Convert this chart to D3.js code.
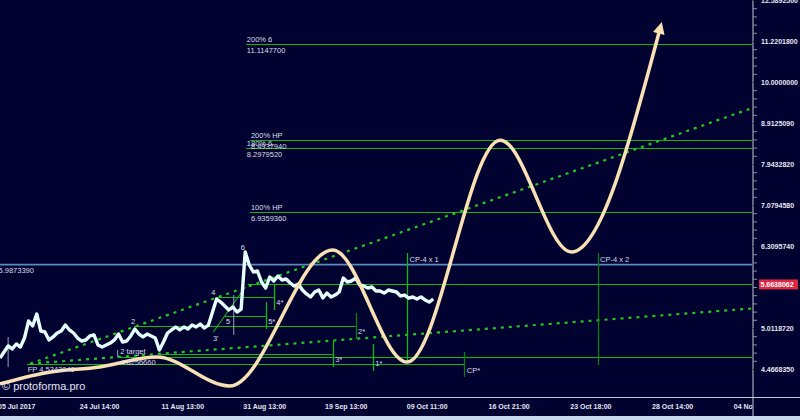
<!DOCTYPE html>
<html><head><meta charset="utf-8">
<script src="https://cdn.jsdelivr.net/npm/d3@7"></script>
<style>html,body{margin:0;padding:0;background:#020230;overflow:hidden}</style>
</head><body>
<svg id="c" width="800" height="420"></svg>
<script>
// ---------- DATA ----------
const xTickBars = [0,100,200,300,400,500,600,700,800,900];
const xTickLabels = ["05 Jul 2017","24 Jul 14:00","11 Aug 13:00","31 Aug 13:00","19 Sep 13:00","09 Oct 11:00","16 Oct 21:00","23 Oct 18:00","28 Oct 14:00","04 Nov 10:00"];
const yTickValues = [12.58925, 11.22018, 10, 8.912509, 7.943282, 7.079458, 6.309574, 5.011872, 4.466835];
const yTickLabels = ["12.5892500","11.2201800","10.0000000","8.9125090","7.9432820","7.0794580","6.3095740","5.0118720","4.4668350"];
const lastPrice = 5.6638062;
const lastPriceLabel = "5.6638062";

const priceStartBar = 3, priceStepBars = 5;
const priceValues = [4.607,4.685,4.765,4.725,4.792,4.751,4.873,5.111,5.040,5.213,
 4.970,4.956,4.846,4.887,4.942,4.970,5.054,4.984,4.942,4.873,
 4.832,4.846,4.901,4.915,4.778,4.751,4.778,4.805,4.846,4.928,
 4.819,4.832,4.901,4.998,4.928,4.887,4.928,4.901,4.873,4.712,
 4.819,4.942,4.984,5.026,4.984,5.026,4.998,5.054,5.026,5.068,
 5.012,5.054,5.242,5.437,5.391,5.331,5.272,5.316,5.242,5.286,
 6.204,5.982,5.865,5.882,5.703,5.608,5.784,5.719,5.800,5.735,
 5.751,5.687,5.639,5.671,5.576,5.514,5.468,5.545,5.576,5.452,
 5.529,5.468,5.498,5.545,5.767,5.703,5.719,5.767,5.655,5.639,
 5.608,5.623,5.561,5.561,5.529,5.576,5.561,5.545,5.483,5.498,
 5.452,5.468,5.437,5.468,5.422,5.391,5.437];
const wickBars = [13, 147, 289];
const wickLow  = [4.492, 4.619, 4.915];
const wickHigh = [4.887, 4.712, 5.498];

const projBars   = [3, 58, 125, 195, 284, 410, 501, 615, 702, 810];
const projValues = [4.2835, 4.4179, 4.4929, 4.6194, 4.2587, 6.2393, 4.5551, 8.4938, 6.2044, 11.5726];

const channelBars = [40, 923];
const channelUpper = [4.534204, 9.2963];
const channelLower = [4.534204, 5.2945];

const hpLevel = 5.987339, hpLevelLabel = "5.9873390";
const levelValues = [11.11477, 8.493794, 8.297952, 6.935936, 5.6638062, 5.468, 5.1836, 5.040, 4.658, 4.625666, 4.534204];
const levelStart  = [304, 309, 304, 309, 306, 268, 278, 167, 199, 147, 36];
const levelEnd    = [923, 923, 923, 923, 923, 338, 328, 438, 410, 923, 571];
const levelTopText    = ["200% 6","200% HP","180% 6","100% HP","","","","","","2 target",""];
const levelBottomText = ["11.1147700","8.4937940","8.2979520","6.9359360","","","","","","4.6256660","FP 4.5342040"];
const levelTextBar    = [305, 310, 305, 310, 0, 0, 0, 0, 0, 150, 37];

const markNames = ["4*","5*","2*","3*","1*","CP-4 x 1","CP-4 x 2","CP*"];
const markBars  = [338, 328, 438, 410, 459, 501, 734, 571];
const markLow   = [5.272, 4.998, 4.859, 4.492, 4.443, 4.543, 4.517, 4.369];
const markHigh  = [5.655, 5.391, 5.228, 4.846, 4.792, 6.186, 6.186, 4.685];
const markTextValue = [5.391, 5.111, 4.970, 4.594, 4.543, 6.083, 6.083, 4.455];
const markDark  = [false,false,true,false,false,false,true,true];

const diagBars = [264, 303];
const diagValues = [4.956, 5.623];

const waveNames  = ["2","4","3'","5","6"];
const waveBars   = [166, 264, 267, 282, 300];
const waveValues = [5.111, 5.545, 4.873, 5.111, 6.292];

// ---------- CHART ----------
const W=800, H=420, plotR=752.5, plotB=397;
const FONT = "'Liberation Sans', Arial, sans-serif";
const svg = d3.select("#c");
svg.append("rect").attr("width",W).attr("height",H).attr("fill","#020230");
svg.append("rect").attr("x",0).attr("y",416).attr("width",W).attr("height",4).attr("fill","#c9d9ee");

const x = d3.scaleLinear().domain([0,1000]).range([-2.5,815]);
const y = d3.scaleLog().domain([4.4668359,12.5892541]).range([369,0]);

const defs = svg.append("defs");
defs.append("clipPath").attr("id","plot").append("rect").attr("x",0).attr("y",0).attr("width",plotR).attr("height",plotB);
defs.append("clipPath").attr("id","xax").append("rect").attr("x",-10).attr("y",-5).attr("width",plotR+10).attr("height",30);
defs.append("marker").attr("id","arr").attr("viewBox","0 0 10 10")
  .attr("refX",3).attr("refY",5).attr("markerWidth",3.6).attr("markerHeight",3.4)
  .attr("orient","auto").attr("markerUnits","strokeWidth")
  .append("path").attr("d","M0,0 L10,5 L0,10 z").attr("fill","#f9e1b4");

const g = svg.append("g").attr("clip-path","url(#plot)");
const GREEN = "#12b812", DKGREEN = "#0b7e0b";

// blue HP level
g.append("line").attr("x1",x(0)).attr("x2",x(923)).attr("y1",y(hpLevel)).attr("y2",y(hpLevel))
  .attr("stroke","#5b88bd").attr("stroke-width",1.6);

// green horizontal levels
levelValues.forEach((v,i)=>{
  g.append("line").attr("x1",x(levelStart[i])).attr("x2",x(levelEnd[i]))
    .attr("y1",Math.round(y(v))+0.5).attr("y2",Math.round(y(v))+0.5)
    .attr("stroke",GREEN).attr("stroke-width",1.2);
});

// dotted channel
const lineGen = d3.line().x((d)=>x(d[0])).y((d)=>y(d[1]));
[channelUpper, channelLower].forEach(arr=>{
  g.append("path").attr("d", lineGen(channelBars.map((b,i)=>[b,arr[i]])))
    .attr("fill","none").attr("stroke","#22c822").attr("stroke-width",2.2)
    .attr("stroke-dasharray","3,5");
});

// vertical markers
markBars.forEach((b,i)=>{
  g.append("line").attr("x1",Math.round(x(b))+0.5).attr("x2",Math.round(x(b))+0.5)
    .attr("y1",y(markHigh[i])).attr("y2",y(markLow[i]))
    .attr("stroke", markDark[i]?DKGREEN:GREEN).attr("stroke-width",1.3);
});
g.append("path").attr("d", lineGen(diagBars.map((b,i)=>[b,diagValues[i]])))
  .attr("stroke",GREEN).attr("stroke-width",1.1).attr("fill","none");

// wicks
wickBars.forEach((b,i)=>{
  g.append("line").attr("x1",x(b)).attr("x2",x(b)).attr("y1",y(wickHigh[i])).attr("y2",y(wickLow[i]))
    .attr("stroke","#9aa4b8").attr("stroke-width",1);
});

// price line
const pricePts = priceValues.map((v,i)=>[priceStartBar+i*priceStepBars, v]);
g.append("path").attr("d", lineGen(pricePts)).attr("fill","none")
  .attr("stroke","#e6fdff").attr("stroke-width",3.4).attr("stroke-linejoin","round");

// projection curve
const projLine = d3.line().x(d=>x(d[0])).y(d=>y(d[1])).curve(d3.curveMonotoneX);
svg.append("path").attr("d", projLine(projBars.map((b,i)=>[b,projValues[i]])))
  .attr("fill","none").attr("stroke","#f9e1b4").attr("stroke-width",3.5)
  .attr("clip-path","url(#plot)").attr("marker-end","url(#arr)");

// texts
const tg = svg.append("g").attr("font-family",FONT).attr("font-size","7.5px").attr("fill","#d9dde8");
tg.append("text").attr("x",x(0)+1).attr("y",y(hpLevel)+6).attr("dy","0.35em").text(hpLevelLabel);
levelValues.forEach((v,i)=>{
  if(levelTopText[i]) tg.append("text").attr("x",x(levelTextBar[i])).attr("y",y(v)-5).attr("dy","0.35em").text(levelTopText[i]);
  if(levelBottomText[i]) tg.append("text").attr("x",x(levelTextBar[i])).attr("y",y(v)+6).attr("dy","0.35em").text(levelBottomText[i]);
});
markNames.forEach((n,i)=>{
  tg.append("text").attr("x",x(markBars[i])+2.5).attr("y",y(markTextValue[i])).attr("dy","0.35em").text(n);
});
waveNames.forEach((n,i)=>{
  tg.append("text").attr("x",x(waveBars[i])).attr("y",y(waveValues[i])).attr("dy","0.35em")
    .attr("text-anchor","middle").text(n);
});
svg.append("text").attr("x",2).attr("y",386).attr("dy","0.35em").attr("font-family",FONT)
  .attr("font-size","11px").attr("fill","#e2e4f2").text("\u00A9 protoforma.pro");

// bottom axis
svg.append("line").attr("x1",0).attr("x2",W).attr("y1",plotB+0.5).attr("y2",plotB+0.5).attr("stroke","#c4c6d4").attr("stroke-width",1);
const xAxisG = svg.append("g").attr("transform",`translate(0,${plotB})`).attr("clip-path","url(#xax)")
  .call(d3.axisBottom(x).tickValues(xTickBars).tickFormat((d,i)=>xTickLabels[i]).tickSize(0).tickSizeOuter(0));
xAxisG.select(".domain").remove();
xAxisG.selectAll("text").attr("y",11.5).attr("dy",0).attr("text-anchor","start")
  .attr("font-family",FONT).attr("font-size","7px").attr("font-weight","bold").attr("fill","#e4e6f0");

// right axis
svg.append("line").attr("x1",plotR+0.5).attr("x2",plotR+0.5).attr("y1",0).attr("y2",416).attr("stroke","#c4c6d4").attr("stroke-width",1);
const minorVals = d3.range(65,111).map(k=>Math.pow(10,k/100));
svg.append("g").attr("transform",`translate(${plotR+0.5},0)`)
  .call(d3.axisRight(y).tickValues(minorVals).tickFormat("").tickSize(4).tickSizeOuter(0))
  .call(a=>{a.select(".domain").remove(); a.selectAll("line").attr("stroke","#8c8ea6");});
const yAxisG = svg.append("g").attr("transform",`translate(${plotR+0.5},0)`)
  .call(d3.axisRight(y).tickValues(yTickValues).tickFormat((d,i)=>yTickLabels[i]).tickSize(6).tickPadding(2).tickSizeOuter(0));
yAxisG.select(".domain").remove();
yAxisG.selectAll("line").attr("stroke","#000010");
yAxisG.selectAll("text").attr("x",8).attr("font-family",FONT).attr("font-size","7px").attr("font-weight","bold").attr("fill","#e4e6f0");

// last price tag
const ly = y(lastPrice);
svg.append("rect").attr("x",759).attr("y",ly-5).attr("width",39).attr("height",10).attr("fill","#df2640");
svg.append("text").attr("x",760.5).attr("y",ly).attr("dy","0.35em").attr("font-family",FONT)
  .attr("font-size","7px").attr("font-weight","bold").attr("fill","#ffffff").text(lastPriceLabel);
</script>
</body></html>
